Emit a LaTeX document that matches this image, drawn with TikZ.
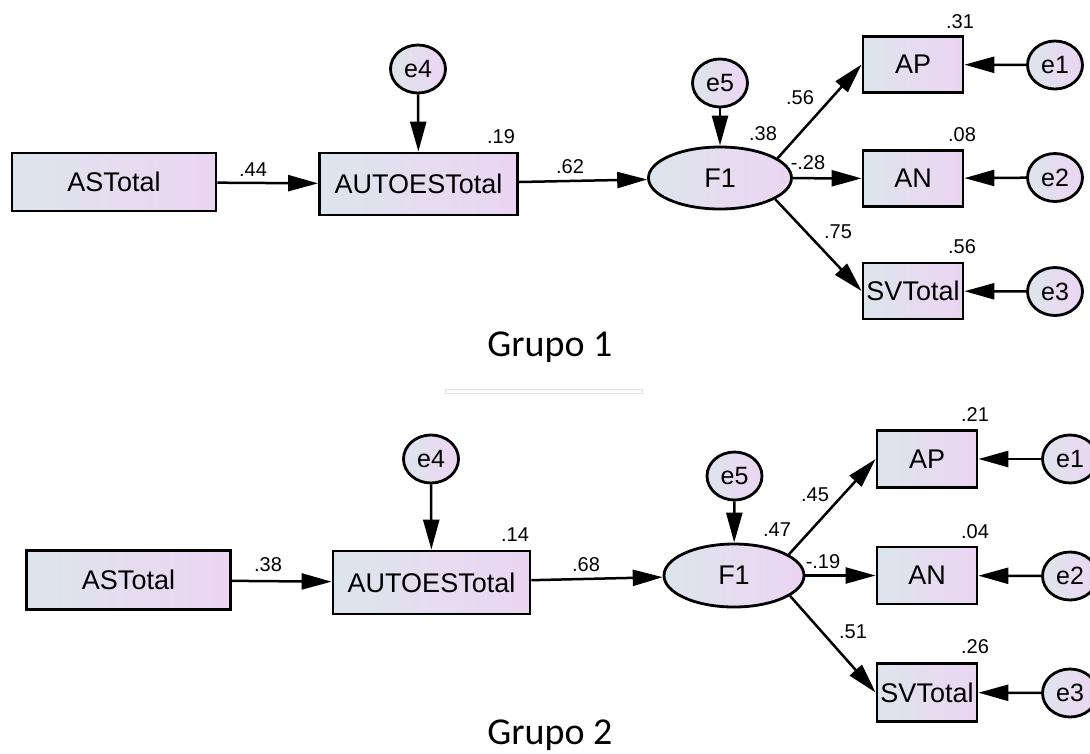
\documentclass[tikz,border=0pt]{standalone}
\usepackage{fontspec}
\setmainfont{Liberation Sans}
\newfontfamily\grupofont{Carlito}
\usetikzlibrary{shapes.geometric,arrows.meta}

\definecolor{semleft}{RGB}{221,229,236}
\definecolor{semright}{RGB}{236,213,242}

\tikzset{
  obsvar/.style={draw, line width=2.8pt, left color=semleft, right color=semright, inner sep=0pt, font=\fontsize{27}{30}\selectfont},
  latvar/.style={ellipse, draw, line width=2.8pt, left color=semleft, right color=semright, inner sep=0pt, minimum width=143pt, minimum height=62pt, font=\fontsize{27}{30}\selectfont},
  errvar/.style={ellipse, draw, line width=2.8pt, left color=semleft, right color=semright, inner sep=0pt, minimum width=55pt, minimum height=48pt, font=\fontsize{25}{28}\selectfont},
  coef/.style={inner sep=0pt, font=\fontsize{20}{22}\selectfont},
  sempath/.style={-{Triangle[length=30pt,width=16pt]}, line width=2.5pt},
  grupo/.style={inner sep=0pt, font=\grupofont\fontsize{38}{42}\selectfont}
}

\begin{document}
\begin{tikzpicture}[x=1pt, y=-1pt]
    \useasboundingbox (0,0) rectangle (1090,753);

    % Grupo 1: variables
    \node[obsvar, minimum width=204pt, minimum height=58pt] (g1as) at (114,182) {ASTotal};
    \node[obsvar, minimum width=198pt, minimum height=62pt] (g1aut) at (418.5,184) {AUTOESTotal};
    \node[errvar] (g1e4) at (418,69) {e4};
    \node[latvar] (g1f) at (720,178) {F1};
    \node[errvar] (g1e5) at (720,83) {e5};
    \node[obsvar, minimum width=100pt, minimum height=56pt] (g1ap) at (913,64.5) {AP};
    \node[obsvar, minimum width=100pt, minimum height=56pt] (g1an) at (913,178.5) {AN};
    \node[obsvar, minimum width=100pt, minimum height=56pt] (g1sv) at (913,291) {SVTotal};
    \node[errvar] (g1e1) at (1055,65) {e1};
    \node[errvar] (g1e2) at (1055,177.5) {e2};
    \node[errvar] (g1e3) at (1055,291.5) {e3};

    % Grupo 1: paths
    \draw[sempath] (g1as) -- (g1aut);
    \draw[sempath] (g1e4) -- (g1aut);
    \draw[sempath] (g1aut) -- (g1f);
    \draw[sempath] (g1e5) -- (g1f);
    \draw[sempath] (g1f.19) -- (g1ap.west);
    \draw[sempath] (g1f) -- (g1an);
    \draw[sempath] (g1f.-21) -- (g1sv.west);
    \draw[sempath] (g1e1) -- (g1ap);
    \draw[sempath] (g1e2) -- (g1an);
    \draw[sempath] (g1e3) -- (g1sv);

    % Grupo 1: estimates
    \node[coef] (g1c1) at (253,170) {.44};
    \node[coef] (g1c2) at (501,137) {.19};
    \node[coef] (g1c3) at (570,167) {.62};
    \node[coef] (g1c4) at (763,134) {.38};
    \node[coef] (g1c5) at (800,98) {.56};
    \node[coef] (g1c6) at (808,163) {-.28};
    \node[coef] (g1c7) at (838,232) {.75};
    \node[coef] (g1c8) at (960,22) {.31};
    \node[coef] (g1c9) at (962,135) {.08};
    \node[coef] (g1c10) at (962,247) {.56};

    \node[grupo] (g1name) at (550,347) {Grupo 1};
    \draw[black!12, line width=0.8pt] (445,389) rectangle (642,393);

    % Grupo 2: variables
    \node[obsvar, minimum width=204pt, minimum height=59pt] (g2as) at (128.5,580) {ASTotal};
    \node[obsvar, minimum width=197pt, minimum height=63pt] (g2aut) at (431.5,582.5) {AUTOESTotal};
    \node[errvar] (g2e4) at (431,459) {e4};
    \node[latvar, minimum width=140pt, minimum height=63pt] (g2f) at (734,575.5) {F1};
    \node[errvar] (g2e5) at (734.5,476) {e5};
    \node[obsvar, minimum width=100pt, minimum height=57pt] (g2ap) at (927,459) {AP};
    \node[obsvar, minimum width=100pt, minimum height=57pt] (g2an) at (927,575.5) {AN};
    \node[obsvar, minimum width=100pt, minimum height=58pt] (g2sv) at (927,692.5) {SVTotal};
    \node[errvar] (g2e1) at (1070,459) {e1};
    \node[errvar] (g2e2) at (1070,576) {e2};
    \node[errvar] (g2e3) at (1070,693) {e3};

    % Grupo 2: paths
    \draw[sempath] (g2as) -- (g2aut);
    \draw[sempath] (g2e4) -- (g2aut);
    \draw[sempath] (g2aut) -- (g2f);
    \draw[sempath] (g2e5) -- (g2f);
    \draw[sempath] (g2f.21) -- (g2ap.west);
    \draw[sempath] (g2f) -- (g2an);
    \draw[sempath] (g2f.-20) -- (g2sv.west);
    \draw[sempath] (g2e1) -- (g2ap);
    \draw[sempath] (g2e2) -- (g2an);
    \draw[sempath] (g2e3) -- (g2sv);

    % Grupo 2: estimates
    \node[coef] (g2c1) at (268,565) {.38};
    \node[coef] (g2c2) at (515,535) {.14};
    \node[coef] (g2c3) at (586,565) {.68};
    \node[coef] (g2c4) at (777,530) {.47};
    \node[coef] (g2c5) at (815,495) {.45};
    \node[coef] (g2c6) at (823,562) {-.19};
    \node[coef] (g2c7) at (853,632) {.51};
    \node[coef] (g2c8) at (975,415) {.21};
    \node[coef] (g2c9) at (975,532) {.04};
    \node[coef] (g2c10) at (975,647) {.26};

    \node[grupo] (g2name) at (550,735) {Grupo 2};
\end{tikzpicture}
\end{document}
